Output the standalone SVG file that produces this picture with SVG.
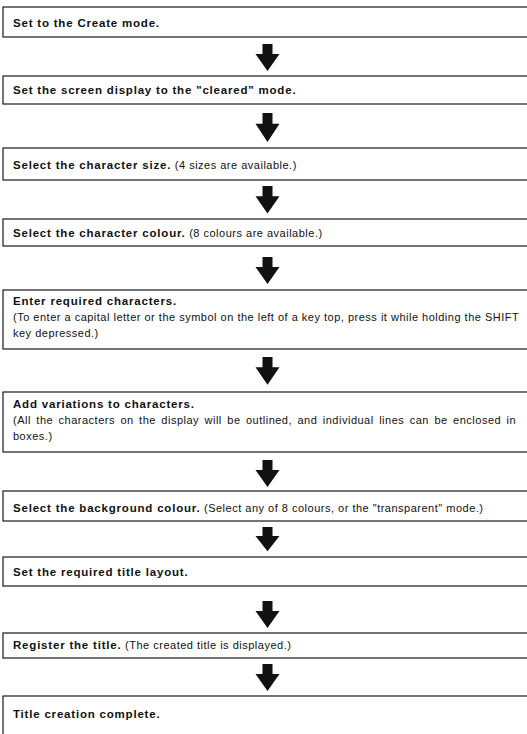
<svg xmlns="http://www.w3.org/2000/svg" xmlns:xlink="http://www.w3.org/1999/xlink" width="527" height="734" viewBox="0 0 527 734">
  <style>
    .box { fill: #ffffff; stroke: #1a1a1a; stroke-width: 1.2; }
    text { font-family: "Liberation Sans", Arial, Helvetica, sans-serif; font-size: 11px; fill: #111111; letter-spacing: 0.5px; }
    .b { font-weight: bold; font-size: 11.5px; letter-spacing: 0.8px; }
    .arrow { fill: #111111; stroke: none; }
  </style>
  <defs>
    <path id="arr" d="M -5,0 H 5 V 10 H 12 L 0,27 L -12,10 H -5 Z"/>
  </defs>
  <rect width="527" height="734" fill="#ffffff"/>

  <g id="connectors">
    <use xlink:href="#arr" href="#arr" class="arrow" transform="translate(267.5,44)"/>
    <use xlink:href="#arr" href="#arr" class="arrow" transform="translate(267.5,113) scale(1,1.07)"/>
    <use xlink:href="#arr" href="#arr" class="arrow" transform="translate(267.5,186) scale(1,1.02)"/>
    <use xlink:href="#arr" href="#arr" class="arrow" transform="translate(267.5,257)"/>
    <use xlink:href="#arr" href="#arr" class="arrow" transform="translate(267.5,357) scale(1,1.03)"/>
    <use xlink:href="#arr" href="#arr" class="arrow" transform="translate(267.5,460)"/>
    <use xlink:href="#arr" href="#arr" class="arrow" transform="translate(267.5,527) scale(1,0.9)"/>
    <use xlink:href="#arr" href="#arr" class="arrow" transform="translate(267.5,601)"/>
    <use xlink:href="#arr" href="#arr" class="arrow" transform="translate(267.5,664)"/>
  </g>

  <g id="n1">
    <rect class="box" x="3" y="7" width="540" height="30"/>
    <text x="13" y="27" class="b">Set to the Create mode.</text>
  </g>
  <g id="n2">
    <rect class="box" x="3" y="76" width="540" height="28"/>
    <text x="13" y="94" class="b">Set the screen display to the "cleared" mode.</text>
  </g>
  <g id="n3">
    <rect class="box" x="3" y="148" width="540" height="32"/>
    <text x="13" y="169"><tspan class="b">Select the character size.</tspan> (4 sizes are available.)</text>
  </g>
  <g id="n4">
    <rect class="box" x="3" y="219" width="540" height="27"/>
    <text x="13" y="237"><tspan class="b">Select the character colour.</tspan> (8 colours are available.)</text>
  </g>
  <g id="n5">
    <rect class="box" x="3" y="290" width="540" height="59"/>
    <text x="13" y="305" class="b">Enter required characters.</text>
    <text x="13" y="321">(To enter a capital letter or the symbol on the left of a key top, press it while holding the SHIFT</text>
    <text x="13" y="337">key depressed.)</text>
  </g>
  <g id="n6">
    <rect class="box" x="3" y="392" width="540" height="60"/>
    <text x="13" y="408" class="b">Add variations to characters.</text>
    <text x="13" y="424" word-spacing="1.9">(All the characters on the display will be outlined, and individual lines can be enclosed in</text>
    <text x="13" y="440">boxes.)</text>
  </g>
  <g id="n7">
    <rect class="box" x="3" y="491" width="540" height="30"/>
    <text x="13" y="512"><tspan class="b">Select the background colour.</tspan> (Select any of 8 colours, or the "transparent" mode.)</text>
  </g>
  <g id="n8">
    <rect class="box" x="3" y="557" width="540" height="29"/>
    <text x="13" y="576" class="b">Set the required title layout.</text>
  </g>
  <g id="n9">
    <rect class="box" x="3" y="633" width="540" height="25"/>
    <text x="13" y="649"><tspan class="b">Register the title.</tspan> (The created title is displayed.)</text>
  </g>
  <g id="n10">
    <rect class="box" x="3" y="696" width="540" height="60"/>
    <text x="13" y="718" class="b">Title creation complete.</text>
  </g>
</svg>
